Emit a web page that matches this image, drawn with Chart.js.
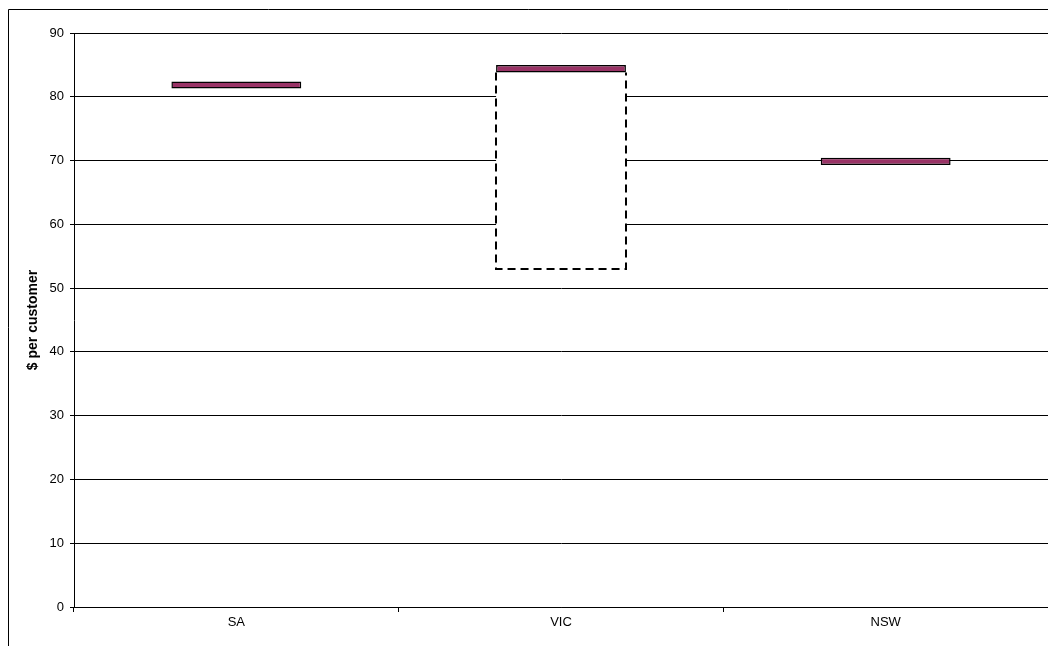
<!DOCTYPE html>
<html>
<head>
<meta charset="utf-8">
<style>
  html, body { margin: 0; padding: 0; background: #fff; }
  #wrap { width: 1048px; height: 646px; }
</style>
<script src="https://cdn.jsdelivr.net/npm/chart.js@4/dist/chart.umd.min.js"></script>
</head>
<body>
<div id="wrap"><canvas id="chart" width="1048" height="646"></canvas></div>
<script>
// States and their cost figures ($ per customer)
const categories = ['SA', 'VIC', 'NSW'];
const bandLow  = [81.3, 83.8, 69.3];
const bandHigh = [82.4, 85.0, 70.45];
// Wider range shown for VIC only
const rangeLow  = [null, 53.0, null];
const rangeHigh = [null, 83.8, null];
const yTicks = [0, 10, 20, 30, 40, 50, 60, 70, 80, 90];

const FONT = "'Liberation Sans', Arial, sans-serif";

const bandData = categories.map((c, i) => [bandLow[i], bandHigh[i]]);
const rangeData = categories.map((c, i) =>
  rangeLow[i] === null ? null : [rangeLow[i], rangeHigh[i]]);

// Outer frame around the chart
const framePlugin = {
  id: 'frame',
  afterDraw(chart) {
    const ctx = chart.ctx;
    ctx.save();
    ctx.strokeStyle = '#000';
    ctx.lineWidth = 1;
    ctx.beginPath();
    ctx.moveTo(8.5, 646);
    ctx.lineTo(8.5, 9.5);
    ctx.lineTo(1048, 9.5);
    ctx.stroke();
    ctx.restore();
  }
};

// Dashed outline for the range boxes
const dashedRangePlugin = {
  id: 'dashedRange',
  afterDatasetDraw(chart, args) {
    if (args.index !== 1) return;
    const ctx = chart.ctx;
    ctx.save();
    ctx.strokeStyle = '#000';
    ctx.lineWidth = 2;
    ctx.setLineDash([8, 5]);
    args.meta.data.forEach((el, i) => {
      if (rangeData[i] === null) return;
      const p = el.getProps(['x', 'y', 'base', 'width'], true);
      const left = Math.round(p.x - p.width / 2);
      const right = Math.round(p.x + p.width / 2);
      const top = Math.min(p.y, p.base);
      const bottom = Math.round(Math.max(p.y, p.base));
      ctx.beginPath();
      ctx.moveTo(left, top);
      ctx.lineTo(left, bottom);
      ctx.lineTo(right, bottom);
      ctx.lineTo(right, top);
      ctx.stroke();
    });
    ctx.restore();
  }
};

new Chart(document.getElementById('chart'), {
  type: 'bar',
  data: {
    labels: categories,
    datasets: [
      {
        label: 'Band',
        data: bandData,
        backgroundColor: '#993366',
        borderColor: '#000',
        borderWidth: 1.5,
        borderSkipped: false,
        grouped: false,
        barPercentage: 0.4,
        categoryPercentage: 1.0,
        order: 0
      },
      {
        label: 'Range',
        data: rangeData,
        backgroundColor: '#fff',
        borderWidth: 0,
        grouped: false,
        barPercentage: 0.4,
        categoryPercentage: 1.0,
        order: 1
      }
    ]
  },
  options: {
    responsive: false,
    animation: false,
    events: [],
    layout: { padding: { top: 33, right: 0, bottom: 0, left: 0 } },
    plugins: {
      legend: { display: false },
      tooltip: { enabled: false },
      title: { display: false }
    },
    scales: {
      x: {
        grid: {
          display: true,
          drawOnChartArea: false,
          drawTicks: true,
          tickLength: 5,
          color: '#000',
          offset: true
        },
        border: { display: true, color: '#000', width: 1 },
        ticks: {
          color: '#000',
          font: { family: FONT, size: 13 },
          padding: 3,
          maxRotation: 0
        },
        afterFit(scale) { scale.height = 39; }
      },
      y: {
        min: 0,
        max: 90,
        afterBuildTicks(scale) {
          scale.ticks = yTicks.map(v => ({ value: v }));
        },
        grid: {
          color: '#000',
          lineWidth: 1,
          drawTicks: true,
          tickLength: 4
        },
        border: { display: true, color: '#000', width: 1 },
        ticks: {
          color: '#000',
          font: { family: FONT, size: 13 },
          padding: 6
        },
        title: {
          display: true,
          text: '$ per customer',
          color: '#000',
          font: { family: FONT, size: 14, weight: 'bold' },
          padding: { top: 25, bottom: 0 }
        },
        afterFit(scale) { scale.width = 74; }
      }
    }
  },
  plugins: [dashedRangePlugin, framePlugin]
});
</script>
</body>
</html>
